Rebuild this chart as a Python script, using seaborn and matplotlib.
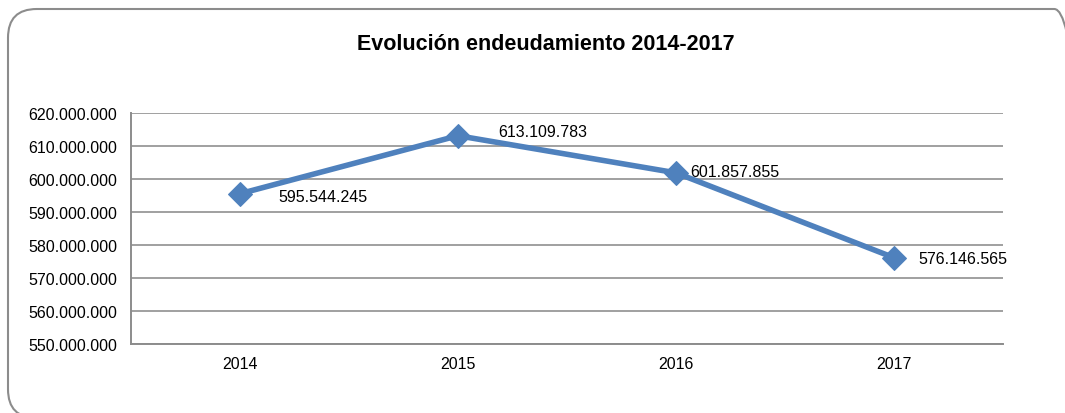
import matplotlib
matplotlib.use("Agg")
from matplotlib import pyplot as plt
from matplotlib.patches import FancyBboxPatch
import pandas as pd
import seaborn as sns

# chart data
years = ["2014", "2015", "2016", "2017"]
debt = [595544245, 613109783, 601857855, 576146565]
labels = ["595.544.245", "613.109.783", "601.857.855", "576.146.565"]
y_ticks = [550000000, 560000000, 570000000, 580000000, 590000000,
           600000000, 610000000, 620000000]

# label offsets in pixels (x right, y up)
label_offsets = [(38, -3), (40, 4), (14, 1), (24, -1)]

sns.set_theme(style="white")
plt.rcParams["font.family"] = ["Liberation Sans", "DejaVu Sans"]
plt.rcParams["text.color"] = "black"

df = pd.DataFrame({"year": years, "debt": debt})
df["pos"] = range(len(df))

fig = plt.figure(figsize=(10.65, 4.14), dpi=100)
ax = fig.add_axes([0.123, 0.1667, 0.8188, 0.558])

# rounded outer frame (Excel chart area), cut off at right and bottom
W, H = 1065, 414
frame = FancyBboxPatch(
    (8 / W, 1 - 419 / H), (1083 - 8) / W, (419 - 10) / H,
    boxstyle="round,pad=0,rounding_size=0.027",
    transform=fig.transFigure, facecolor="none",
    edgecolor="#8c8c8c", linewidth=1.5, mutation_aspect=W / H,
    zorder=0,
)
fig.patches.append(frame)

sns.lineplot(
    data=df, x="pos", y="debt", ax=ax,
    color="#4f81bd", linewidth=4, marker="D", markersize=12,
    markeredgecolor="#4f81bd", zorder=3,
)

for (x, y), lab, off in zip(zip(df["pos"], df["debt"]), labels, label_offsets):
    ax.annotate(lab, (x, y), xytext=off, textcoords="offset pixels",
                ha="left", va="center", fontsize=11.5, color="black")

ax.set_xlim(-0.5, 3.5)
ax.set_ylim(550000000, 620000000)
ax.set_yticks(y_ticks)
ax.set_yticklabels([f"{v:,}".replace(",", ".") for v in y_ticks])
ax.set_xticks(df["pos"])
ax.set_xticklabels(years)
ax.set_xlabel("")
ax.set_ylabel("")
ax.grid(axis="y", color="#a0a0a0", linewidth=1.4)
ax.set_axisbelow(True)
ax.tick_params(axis="both", length=0, labelsize=11.5, colors="black")
ax.tick_params(axis="y", pad=10)
ax.tick_params(axis="x", pad=9)

for side in ("top", "right"):
    ax.spines[side].set_visible(False)
for side in ("left", "bottom"):
    ax.spines[side].set_color("#8c8c8c")
    ax.spines[side].set_linewidth(1.4)

fig.text(546 / W, 1 - 45 / H, "Evolución endeudamiento 2014-2017",
         ha="center", va="center", fontsize=15.5, fontweight="bold",
         color="black")

fig.savefig("out.png", dpi=100)
